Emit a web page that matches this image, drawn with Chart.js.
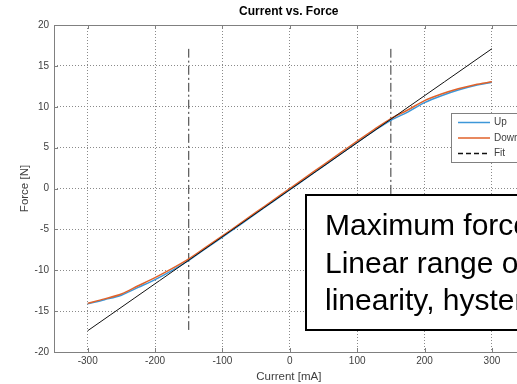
<!DOCTYPE html>
<html>
<head>
<meta charset="utf-8">
<title>Current vs. Force</title>
<script src="https://cdn.jsdelivr.net/npm/chart.js@4.4.0/dist/chart.umd.min.js"></script>
<style>
    html, body { margin: 0; padding: 0; background: #fff; overflow: hidden; }
    #wrap { width: 560px; height: 384px; }
</style>
</head>
<body>
<div id="wrap"><canvas id="forceChart" width="560" height="384"></canvas></div>
<script>
const current = [-300, -275, -250, -225, -200, -175, -150, -125, -100, -75, -50, -25, 0,
                 25, 50, 75, 100, 125, 150, 175, 200, 225, 250, 275, 300];
const forceUp = [-14.1, -13.6, -13.05, -12.1, -11.15, -10.05, -8.8, -7.35, -5.95, -4.5, -3.05, -1.6, -0.15,
                 1.3, 2.75, 4.2, 5.65, 7.05, 8.35, 9.35, 10.5, 11.35, 12.05, 12.6, 13.0];
const forceDown = [-14.05, -13.5, -12.9, -11.9, -10.9, -9.8, -8.6, -7.2, -5.8, -4.35, -2.9, -1.45, 0.0,
                   1.45, 2.9, 4.35, 5.8, 7.2, 8.55, 9.6, 10.75, 11.55, 12.2, 12.7, 13.05];
const fitCurrent = [-300, 300];
const fitForce = [-17.4, 17.1];
const limitLeftCurrent = [-150, -150];
const limitRightCurrent = [150, 150];
const limitForce = [-17.3, 17.3];

const xTicks = [-300, -200, -100, 0, 100, 200, 300];
const yTicks = [-20, -15, -10, -5, 0, 5, 10, 15, 20];
const noteLines = ['Maximum force', 'Linear range of', 'linearity, hysteresis'];

function toPoints(xs, ys) {
    return xs.map((x, i) => ({ x: x, y: ys[i] }));
}

const axisColor = '#808080';
const textColor = '#404040';

// Frame, titles, legend and note box, drawn MATLAB style
const figurePlugin = {
    id: 'figureDecor',
    afterDraw(chart) {
        const ctx = chart.ctx;
        const area = chart.chartArea;
        const xs = chart.scales.x;
        const ys = chart.scales.y;
        ctx.save();

        // axes box + inner tick marks
        ctx.strokeStyle = axisColor;
        ctx.lineWidth = 1;
        ctx.setLineDash([]);
        ctx.strokeRect(Math.round(area.left) + 0.5, Math.round(area.top) + 0.5,
                       area.right - area.left, area.bottom - area.top);
        ctx.beginPath();
        xTicks.forEach(v => {
            const px = Math.round(xs.getPixelForValue(v)) + 0.5;
            ctx.moveTo(px, area.bottom); ctx.lineTo(px, area.bottom - 4);
            ctx.moveTo(px, area.top); ctx.lineTo(px, area.top + 4);
        });
        yTicks.forEach(v => {
            const py = Math.round(ys.getPixelForValue(v)) + 0.5;
            ctx.moveTo(area.left, py); ctx.lineTo(area.left + 4, py);
        });
        ctx.stroke();

        // titles
        const cx = (area.left + area.right) / 2;
        ctx.fillStyle = '#000';
        ctx.font = 'bold 12px "Liberation Sans", Arial, sans-serif';
        ctx.textAlign = 'center';
        ctx.textBaseline = 'middle';
        ctx.fillText('Current vs. Force', cx - 1, 12);

        ctx.fillStyle = textColor;
        ctx.font = '11.5px "Liberation Sans", Arial, sans-serif';
        ctx.fillText('Current [mA]', cx - 1, 377);
        ctx.save();
        ctx.translate(25, (area.top + area.bottom) / 2);
        ctx.rotate(-Math.PI / 2);
        ctx.fillText('Force [N]', 0, 0);
        ctx.restore();

        // legend box
        const lx = 451, ly = 113;
        ctx.fillStyle = '#fff';
        ctx.fillRect(lx, ly, 120, 49);
        ctx.strokeStyle = axisColor;
        ctx.lineWidth = 1;
        ctx.strokeRect(lx + 0.5, ly + 0.5, 120, 49);
        const entries = chart.data.datasets.filter(d => d.label);
        entries.forEach((d, i) => {
            const y = ly + 9.5 + i * 15.5;
            ctx.strokeStyle = d.borderColor;
            ctx.lineWidth = 1.5;
            ctx.setLineDash(d.legendDash || []);
            ctx.beginPath();
            ctx.moveTo(458, y); ctx.lineTo(490, y);
            ctx.stroke();
            ctx.setLineDash([]);
            ctx.fillStyle = textColor;
            ctx.font = '10px "Liberation Sans", Arial, sans-serif';
            ctx.textAlign = 'left';
            ctx.fillText(d.label, 494, y);
        });

        // note box
        ctx.fillStyle = '#fff';
        ctx.fillRect(306, 195, 260, 135);
        ctx.strokeStyle = '#000';
        ctx.lineWidth = 2;
        ctx.strokeRect(306, 195, 260, 135);
        ctx.fillStyle = '#000';
        ctx.font = '30px "Liberation Sans", Arial, sans-serif';
        ctx.textAlign = 'left';
        ctx.textBaseline = 'alphabetic';
        noteLines.forEach((t, i) => ctx.fillText(t, 325, 235 + i * 37.5));

        ctx.restore();
    }
};

document.addEventListener('DOMContentLoaded', function() {
    const ctx = document.getElementById('forceChart').getContext('2d');
    new Chart(ctx, {
        type: 'scatter',
        data: {
            datasets: [
                {
                    label: '',
                    data: toPoints(limitLeftCurrent, limitForce),
                    borderColor: '#333',
                    borderWidth: 1,
                    borderDash: [9, 3, 2, 3],
                    order: 5
                },
                {
                    label: '',
                    data: toPoints(limitRightCurrent, limitForce),
                    borderColor: '#333',
                    borderWidth: 1,
                    borderDash: [9, 3, 2, 3],
                    order: 5
                },
                {
                    label: 'Up',
                    data: toPoints(current, forceUp),
                    borderColor: '#3d97d8',
                    borderWidth: 1.5,
                    order: 4
                },
                {
                    label: 'Down',
                    data: toPoints(current, forceDown),
                    borderColor: '#e0622a',
                    borderWidth: 1.5,
                    order: 3
                },
                {
                    label: 'Fit',
                    data: toPoints(fitCurrent, fitForce),
                    borderColor: '#111',
                    borderWidth: 1,
                    legendDash: [5, 3],
                    order: 2
                }
            ].map(d => Object.assign(d, { showLine: true, pointRadius: 0, tension: 0.3, fill: false }))
        },
        options: {
            responsive: false,
            animation: false,
            devicePixelRatio: 1,
            layout: { padding: { top: 25, right: 34.4, left: 0, bottom: 0 } },
            plugins: {
                legend: { display: false },
                tooltip: { enabled: false },
                title: { display: false }
            },
            scales: {
                x: {
                    type: 'linear',
                    min: -350,
                    max: 350,
                    afterBuildTicks: s => { s.ticks = xTicks.map(v => ({ value: v })); },
                    afterFit: s => { s.height = 32; },
                    grid: { color: '#8a8a8a', lineWidth: 1, drawTicks: false },
                    border: { display: false, dash: [1, 2] },
                    ticks: {
                        color: textColor,
                        font: { family: '"Liberation Sans", Arial, sans-serif', size: 10 },
                        padding: 3,
                        maxRotation: 0
                    }
                },
                y: {
                    type: 'linear',
                    min: -20,
                    max: 20,
                    afterBuildTicks: s => { s.ticks = yTicks.map(v => ({ value: v })); },
                    afterFit: s => { s.width = 54; },
                    grid: { color: '#8a8a8a', lineWidth: 1, drawTicks: false },
                    border: { display: false, dash: [1, 2] },
                    ticks: {
                        color: textColor,
                        font: { family: '"Liberation Sans", Arial, sans-serif', size: 10 },
                        padding: 5
                    }
                }
            }
        },
        plugins: [figurePlugin]
    });
});
</script>
</body>
</html>
